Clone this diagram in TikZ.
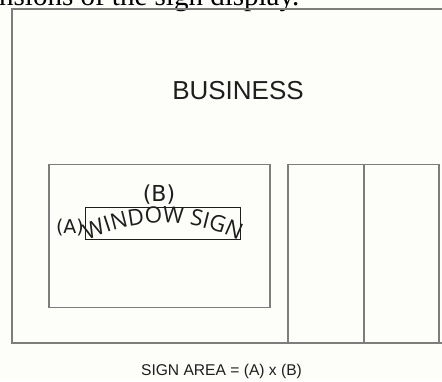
\documentclass[tikz,border=0pt]{standalone}
\usepackage{fontspec}
\setmainfont{Liberation Sans}
\newfontfamily\serifcap{Liberation Serif}
\newfontfamily\dejavu{DejaVu Sans}
\newfontfamily\opensans{Open Sans}
\usetikzlibrary{decorations.text}
\definecolor{bgpaper}{RGB}{253,253,250}
\definecolor{wallgray}{RGB}{125,125,125}
\definecolor{inkdark}{RGB}{30,30,30}
\tikzset{
  wall/.style={draw=wallgray, line width=1.5pt},
  signbox/.style={draw=inkdark, line width=1.4pt},
  lbl/.style={inner sep=0pt, text=inkdark},
}
\begin{document}
\begin{tikzpicture}[x=1pt,y=1pt]
\useasboundingbox (0,0) rectangle (442,381);
\fill[bgpaper] (0,0) rectangle (442,381);
% clipped caption at top
\node[lbl, anchor=base west, text=black, font=\serifcap\fontsize{29}{31}\selectfont] (cap) at (-1,375.5) {nsions of the sign display.};
% building outline
\coordinate (btl) at (12,372);
\coordinate (btr) at (443,372);
\coordinate (bbl) at (12,38);
\coordinate (bbr) at (443,38);
\draw[wall] (btr) -- (btl) -- (bbl) -- (bbr);
% window
\node[wall, inner sep=0pt, minimum width=221pt, minimum height=143pt, anchor=south west] (window) at (48,73) {};
% door
\node[wall, inner sep=0pt, minimum width=76pt, minimum height=178pt, anchor=south west] (doorL) at (287,38) {};
\node[wall, inner sep=0pt, minimum width=75pt, minimum height=178pt, anchor=south west] (doorR) at (363,38) {};
% sign
\node[signbox, inner sep=0pt, minimum width=155pt, minimum height=32pt, anchor=south west] (sign) at (85,141) {};
% texts
\node[lbl, font=\fontsize{26}{28}\selectfont] (business) at (238,290) {BUSINESS};
\node[lbl, font=\dejavu\fontsize{22}{24}\selectfont] (lblB) at (159,186) {(B)};
\node[lbl, font=\dejavu\fontsize{19}{21}\selectfont] (lblA) at (70,153) {(A)};
\coordinate (arcstart) at (88.5,140.8);
\path[decorate, decoration={text along path, text={|\opensans\fontsize{22.5}{24}\selectfont\color{inkdark}|WINDOW SIGN}, text align=center}] (arcstart) arc[start angle=116, end angle=64, radius=170];
\node[lbl, font=\fontsize{15.6}{17}\selectfont] (area) at (221.5,9.5) {SIGN AREA = (A) x (B)};
\end{tikzpicture}
\end{document}
